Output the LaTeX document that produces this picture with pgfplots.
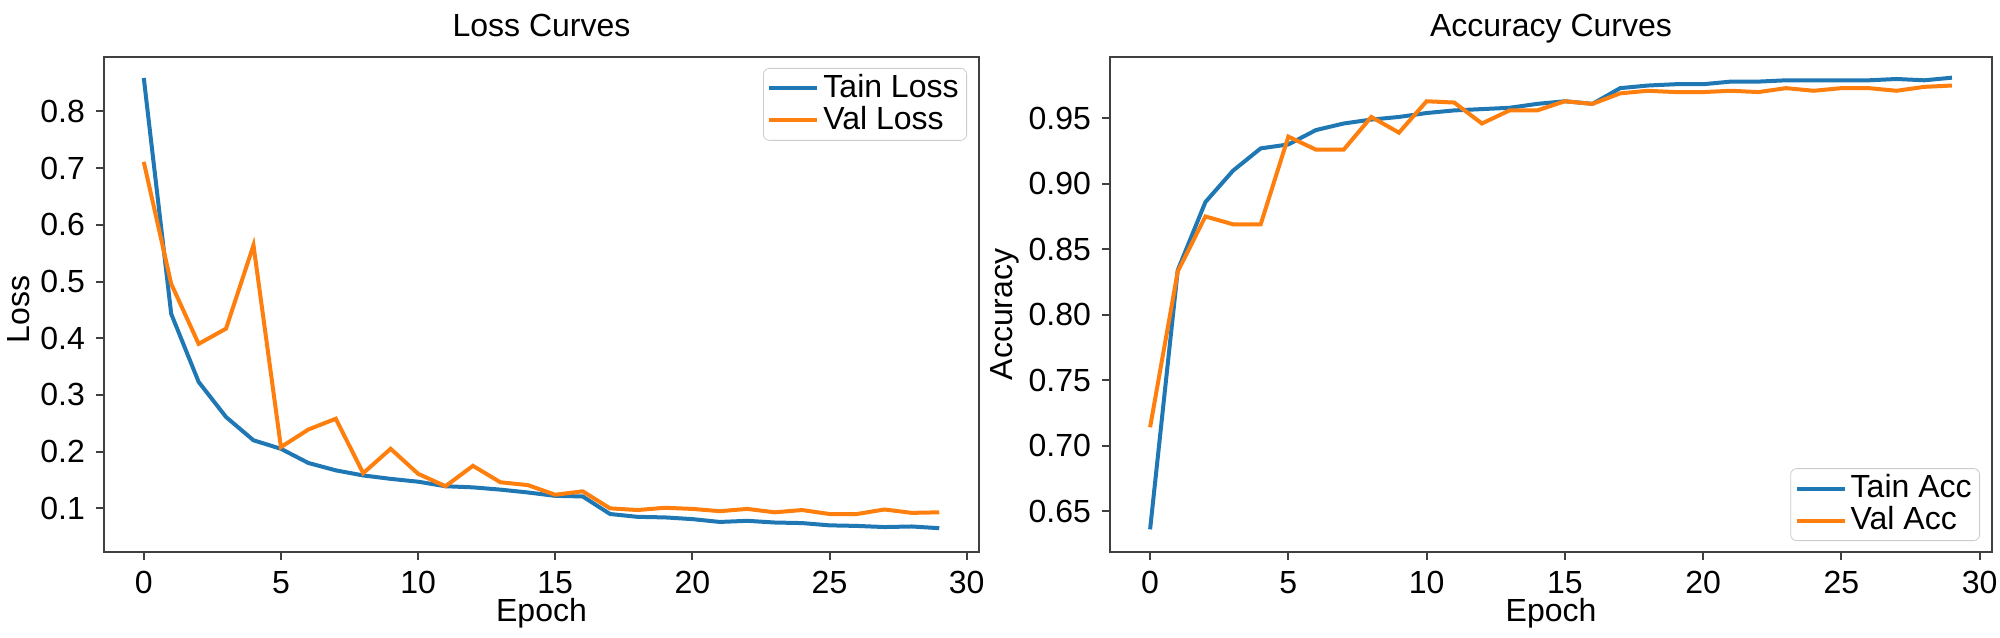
\documentclass[border=0pt]{standalone}
\usepackage{pgfplots}
\pgfplotsset{compat=1.18}
\usepackage{fontspec}
\setmainfont{Liberation Sans}
\definecolor{tabblue}{HTML}{1F77B4}
\definecolor{taborange}{HTML}{FF7F0E}

\pgfplotsset{
  curves/.style={
    scale only axis,
    height=247.5pt,
    xmin=-1.45, xmax=30.45,
    xtick={0,5,10,15,20,25,30},
    tick pos=left, tick align=outside,
    major tick length=4pt,
    every tick/.style={black!75, line width=1pt},
    axis line style={black!75, line width=1.3pt},
    scaled y ticks=false,
    /pgf/number format/assume math mode=true,
    xlabel=Epoch,
    title style={at={(0.5,1)}, anchor=base, yshift=4pt},
    xlabel style={yshift=8.5pt},
    legend cell align=left,
    legend style={draw=black!20, rounded corners=3pt, fill=white, fill opacity=0.8, text opacity=1,
      inner xsep=2pt, inner ysep=1pt, row sep=-2pt},
    legend image code/.code={\draw[#1] (0pt,0pt) -- (24pt,0pt);},
    every axis plot/.append style={line width=2pt},
  }
}

\begin{document}
\fontsize{16}{19}\selectfont
\begin{tikzpicture}
\useasboundingbox (0,0) rectangle (1000pt,318.5pt);

\begin{axis}[curves, at={(52pt,42.5pt)}, anchor=south west, width=437.5pt,
  ymin=0.023, ymax=0.896,
  ytick={0.1,0.2,0.3,0.4,0.5,0.6,0.7,0.8},
  yticklabel style={/pgf/number format/.cd, fixed, fixed zerofill, precision=1},
  title=Loss Curves, ylabel=Loss,
  ylabel style={anchor=center, at={(axis description cs:-0.097,0.49)}},
  legend style={at={(1,1)}, anchor=north east, xshift=-6pt, yshift=-5.5pt}]
\addplot[tabblue] coordinates {
  (0,0.859) (1,0.443) (2,0.323) (3,0.261) (4,0.220) (5,0.205) (6,0.180) (7,0.167) (8,0.158) (9,0.152)
  (10,0.147) (11,0.139) (12,0.137) (13,0.133) (14,0.128) (15,0.122) (16,0.121) (17,0.090) (18,0.085) (19,0.084)
  (20,0.081) (21,0.076) (22,0.078) (23,0.075) (24,0.074) (25,0.070) (26,0.069) (27,0.067) (28,0.068) (29,0.065)
};
\addplot[taborange] coordinates {
  (0,0.711) (1,0.496) (2,0.390) (3,0.417) (4,0.564) (5,0.208) (6,0.239) (7,0.258) (8,0.162) (9,0.205)
  (10,0.161) (11,0.139) (12,0.175) (13,0.146) (14,0.141) (15,0.124) (16,0.130) (17,0.100) (18,0.097) (19,0.101)
  (20,0.099) (21,0.095) (22,0.099) (23,0.093) (24,0.097) (25,0.090) (26,0.090) (27,0.098) (28,0.092) (29,0.093)
};
\legend{Tain Loss, Val Loss}
\end{axis}

\begin{axis}[curves, at={(555pt,42.5pt)}, anchor=south west, width=441pt,
  ymin=0.6187, ymax=0.9968,
  ytick={0.65,0.70,0.75,0.80,0.85,0.90,0.95},
  yticklabel style={/pgf/number format/.cd, fixed, fixed zerofill, precision=2},
  title=Accuracy Curves, ylabel=Accuracy,
  ylabel style={anchor=center, at={(axis description cs:-0.119,0.48)}},
  legend style={at={(1,0)}, anchor=south east, xshift=-6pt, yshift=5.5pt}]
\addplot[tabblue] coordinates {
  (0,0.636) (1,0.834) (2,0.886) (3,0.910) (4,0.927) (5,0.930) (6,0.941) (7,0.946) (8,0.949) (9,0.951)
  (10,0.954) (11,0.956) (12,0.957) (13,0.958) (14,0.961) (15,0.963) (16,0.961) (17,0.973) (18,0.975) (19,0.976)
  (20,0.976) (21,0.978) (22,0.978) (23,0.979) (24,0.979) (25,0.979) (26,0.979) (27,0.980) (28,0.979) (29,0.981)
};
\addplot[taborange] coordinates {
  (0,0.714) (1,0.833) (2,0.875) (3,0.869) (4,0.869) (5,0.936) (6,0.926) (7,0.926) (8,0.951) (9,0.939)
  (10,0.963) (11,0.962) (12,0.946) (13,0.956) (14,0.956) (15,0.963) (16,0.961) (17,0.969) (18,0.971) (19,0.970)
  (20,0.970) (21,0.971) (22,0.970) (23,0.973) (24,0.971) (25,0.973) (26,0.973) (27,0.971) (28,0.974) (29,0.975)
};
\legend{Tain Acc, Val Acc}
\end{axis}
\end{tikzpicture}
\end{document}
